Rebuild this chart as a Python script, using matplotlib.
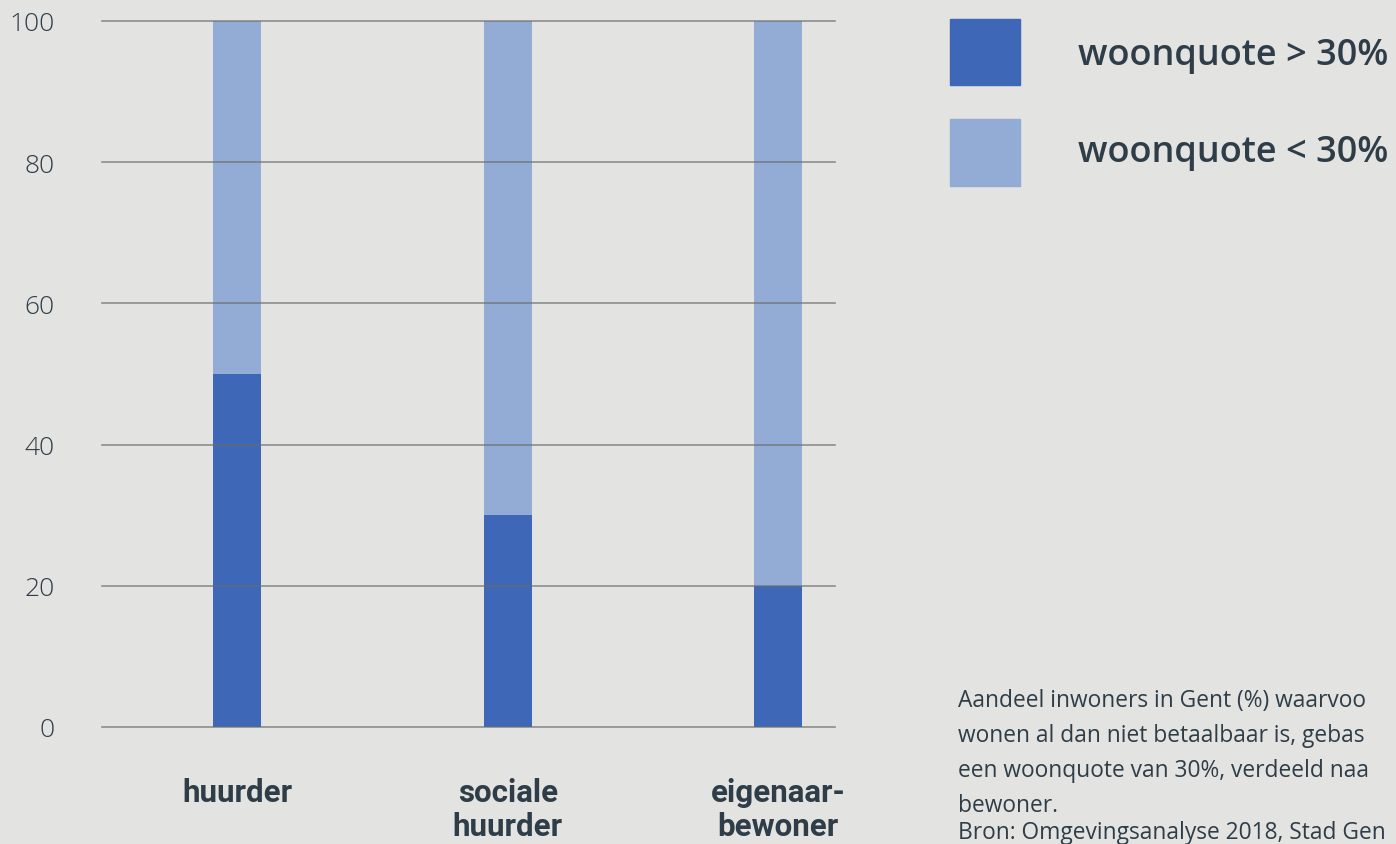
import matplotlib.pyplot as plt
import numpy as np

# data
categories = ["huurder", "sociale\nhuurder", "eigenaar-\nbewoner"]
boven_30 = [50, 30, 20]       # woonquote > 30%
onder_30 = [50, 70, 80]       # woonquote < 30%
yticks = [0, 20, 40, 60, 80, 100]

# caption as far as it is visible in the picture
caption = ["Aandeel inwoners in Gent (%) waarvoo",
           "wonen al dan niet betaalbaar is, gebas",
           "een woonquote van 30%, verdeeld naa",
           "bewoner.",
           "Bron: Omgevingsanalyse 2018, Stad Gen"]

donker = "#3e68b7"
licht = "#93acd6"
tekst = "#2e3d47"
bg = "#e3e3e1"

fig = plt.figure(figsize=(13.96, 8.45), dpi=100, facecolor=bg)
ax = fig.add_axes([0.0731, 0.1385, 0.525, 0.8355], facecolor=bg)

x = np.arange(len(categories))
ax.bar(x, boven_30, width=0.177, color=donker, zorder=2)
ax.bar(x, onder_30, width=0.177, bottom=boven_30, color=licht, zorder=2)

ax.set_xlim(-0.5, 2.21)
ax.set_ylim(0, 100)
ax.set_yticks(yticks)
ax.set_yticklabels([str(t) for t in yticks], fontfamily="Open Sans",
                   fontweight="light", fontsize=19, color=tekst)
ax.tick_params(axis="y", length=0, pad=34)
ax.set_xticks(x)
ax.set_xticklabels(categories, fontfamily="Roboto", fontweight="bold",
                   fontsize=22.5, color=tekst, linespacing=1.15)
ax.tick_params(axis="x", length=0, pad=36)

for t in yticks:
    ax.axhline(t, color="#6a6a6a", lw=1.2, alpha=0.7, zorder=3, clip_on=False)
for s in ax.spines.values():
    s.set_visible(False)

# legend
fig.patches.append(plt.Rectangle((950 / 1396, 1 - 86 / 845), 70 / 1396, 66 / 845,
                                 transform=fig.transFigure, color=donker))
fig.patches.append(plt.Rectangle((950 / 1396, 1 - 187 / 845), 70 / 1396, 67 / 845,
                                 transform=fig.transFigure, color=licht))
fig.text(1078 / 1396, 1 - 56 / 845, "woonquote > 30%", fontfamily="Open Sans",
         fontweight="semibold", fontsize=26, color=tekst, va="center")
fig.text(1078 / 1396, 1 - 153 / 845, "woonquote < 30%", fontfamily="Open Sans",
         fontweight="semibold", fontsize=26, color=tekst, va="center")

baselines = [707, 742, 777, 812, 839]
for regel, yb in zip(caption, baselines):
    fig.text(958 / 1396, 1 - yb / 845, regel, fontfamily="Open Sans",
             fontsize=16.4, color=tekst, va="baseline")

fig.savefig("out.png", dpi=100, facecolor=bg)
